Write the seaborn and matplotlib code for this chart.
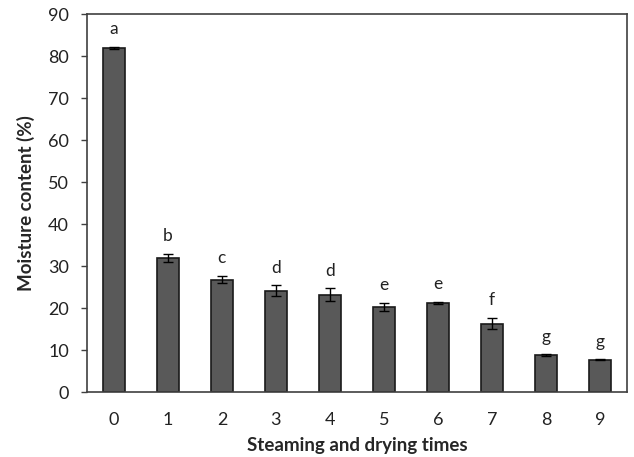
import matplotlib.pyplot as plt
import seaborn as sns
import pandas as pd

times = ['0', '1', '2', '3', '4', '5', '6', '7', '8', '9']
moisture = [81.9, 32.0, 26.8, 24.1, 23.2, 20.2, 21.2, 16.3, 8.8, 7.7]
sd = [0.3, 0.9, 0.9, 1.3, 1.5, 1.0, 0.3, 1.3, 0.2, 0.1]
letters = ['a', 'b', 'c', 'd', 'd', 'e', 'e', 'f', 'g', 'g']

df = pd.DataFrame({'time': times, 'moisture': moisture})

sns.set_style('ticks')
plt.rcParams['font.family'] = ['Lato', 'DejaVu Sans']

fig, ax = plt.subplots(figsize=(6.34, 4.57), dpi=100)
sns.barplot(data=df, x='time', y='moisture', color='#595959', width=0.41,
            edgecolor='#1a1a1a', linewidth=1.2, saturation=1, ax=ax)
ax.errorbar(range(len(times)), moisture, yerr=sd, fmt='none', ecolor='black',
            elinewidth=1, capsize=3.5, capthick=1)
for i, (v, e, l) in enumerate(zip(moisture, sd, letters)):
    ax.annotate(l, (i, v + e), xytext=(0, 7), textcoords='offset points',
                ha='center', va='bottom', fontsize=12.5, color='#222222')

ax.set_xlim(-0.5, 9.5)
ax.set_ylim(0, 90)
ax.set_yticks(range(0, 91, 10))
ax.set_xlabel('Steaming and drying times', fontsize=13.5, fontweight='bold', labelpad=7)
ax.set_ylabel('Moisture content (%)', fontsize=13.5, fontweight='bold', labelpad=9)
ax.tick_params(axis='y', direction='out', length=4, width=1, pad=9, labelsize=13, colors='#404040', labelcolor='#222222')
ax.tick_params(axis='x', length=0, labelsize=13, pad=14, labelcolor='#222222')
for s in ax.spines.values():
    s.set_visible(True)
    s.set_color('#404040')
    s.set_linewidth(1.2)

fig.subplots_adjust(left=0.137, right=0.989, top=0.969, bottom=0.142)
fig.savefig('out.png', dpi=100)
